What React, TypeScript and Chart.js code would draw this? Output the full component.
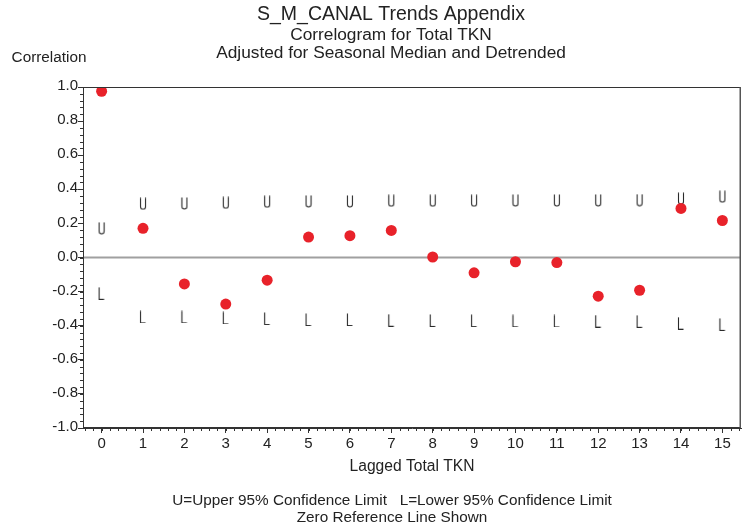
import React, { useEffect, useRef } from "react";
import { Chart, registerables } from "chart.js";

Chart.register(...registerables);

// ---- data ----
const lags = [0, 1, 2, 3, 4, 5, 6, 7, 8, 9, 10, 11, 12, 13, 14, 15];
const correlation = [0.975, 0.171, -0.155, -0.273, -0.133, 0.12, 0.128, 0.159, 0.003, -0.09, -0.025, -0.03, -0.227, -0.192, 0.288, 0.217];
const upperLimit = [0.171, 0.315, 0.317, 0.321, 0.327, 0.329, 0.329, 0.333, 0.333, 0.333, 0.334, 0.334, 0.335, 0.336, 0.345, 0.357];
const lowerLimit = [-0.21, -0.348, -0.348, -0.354, -0.358, -0.364, -0.364, -0.368, -0.369, -0.370, -0.371, -0.372, -0.373, -0.374, -0.385, -0.392];
const xTicks = [0, 1, 2, 3, 4, 5, 6, 7, 8, 9, 10, 11, 12, 13, 14, 15];
const yTicks = [-1.0, -0.8, -0.6, -0.4, -0.2, 0.0, 0.2, 0.4, 0.6, 0.8, 1.0];
const xRange = [-0.45, 15.45];
const yRange = [-1.0, 1.0];
const xMinorStep = 0.2;
const yMinorStep = 0.04;

const titleLines = ["S_M_CANAL Trends Appendix", "Correlogram for Total TKN", "Adjusted for Seasonal Median and Detrended"];
const yAxisTitle = "Correlation";
const xAxisTitle = "Lagged Total TKN";
const footnotes = ["U=Upper 95% Confidence Limit   L=Lower 95% Confidence Limit", "Zero Reference Line Shown"];

const FONT = "'Liberation Sans', Arial, sans-serif";

function makeGlyph(kind: "U" | "L"): HTMLCanvasElement {
  const c = document.createElement("canvas");
  c.width = 8;
  c.height = 13;
  const g = c.getContext("2d")!;
  g.strokeStyle = "#2a2a2a";
  g.lineWidth = 1.1;
  g.beginPath();
  if (kind === "U") {
    g.moveTo(1.5, 0.5);
    g.lineTo(1.5, 9.5);
    g.arc(4, 9.5, 2.5, Math.PI, 0, true);
    g.lineTo(6.5, 0.5);
  } else {
    g.moveTo(1.5, 0.5);
    g.lineTo(1.5, 12.5);
    g.lineTo(6.5, 12.5);
  }
  g.stroke();
  return c;
}

const decorPlugin = {
  id: "decor",
  beforeDatasetsDraw(chart: any) {
    const { ctx, chartArea, scales } = chart;
    const y0 = scales.y.getPixelForValue(0);
    ctx.save();
    ctx.strokeStyle = "#a0a0a0";
    ctx.lineWidth = 2;
    ctx.beginPath();
    ctx.moveTo(chartArea.left, y0);
    ctx.lineTo(chartArea.right, y0);
    ctx.stroke();
    ctx.restore();
  },
  afterDraw(chart: any) {
    const { ctx, chartArea, scales } = chart;
    const { left, right, top, bottom } = chartArea;
    ctx.save();
    // frame
    ctx.strokeStyle = "#333";
    ctx.lineWidth = 1;
    ctx.strokeRect(left + 0.5, top + 0.5, right - left - 1, bottom - top - 1);
    ctx.beginPath();
    ctx.strokeStyle = "#555";
    ctx.lineWidth = 1.5;
    ctx.moveTo(right - 0.75, top);
    ctx.lineTo(right - 0.75, bottom);
    ctx.stroke();
    // minor ticks
    ctx.strokeStyle = "#333";
    ctx.lineWidth = 1;
    ctx.beginPath();
    const startX = Math.ceil(xRange[0] / xMinorStep) * xMinorStep;
    for (let i = 0; i < 200; i++) {
      const v = startX + i * xMinorStep;
      if (v > xRange[1]) break;
      const px = Math.round(scales.x.getPixelForValue(v)) + 0.5;
      ctx.moveTo(px, bottom);
      ctx.lineTo(px, bottom + 3);
    }
    const ny = Math.round((yRange[1] - yRange[0]) / yMinorStep);
    for (let i = 0; i <= ny; i++) {
      const v = yRange[0] + i * yMinorStep;
      const py = Math.round(scales.y.getPixelForValue(v)) + 0.5;
      ctx.moveTo(left, py);
      ctx.lineTo(left - 3, py);
    }
    ctx.stroke();
    // texts
    ctx.fillStyle = "#222";
    ctx.textAlign = "center";
    ctx.textBaseline = "middle";
    ctx.font = `19.5px ${FONT}`;
    ctx.fillText(titleLines[0], 391, 15);
    ctx.font = `17.3px ${FONT}`;
    ctx.fillText(titleLines[1], 391, 35);
    ctx.fillText(titleLines[2], 391, 53);
    ctx.font = `15.3px ${FONT}`;
    ctx.fillText(yAxisTitle, 49, 58);
    ctx.fillText(footnotes[0], 392, 501);
    ctx.fillText(footnotes[1], 392, 518);
    ctx.font = `15.6px ${FONT}`;
    ctx.fillText(xAxisTitle, (left + right) / 2, 467);
    ctx.restore();
  },
};

export default function App() {
  const ref = useRef<HTMLCanvasElement | null>(null);
  useEffect(() => {
    if (!ref.current) return;
    const uImg = makeGlyph("U");
    const lImg = makeGlyph("L");
    const chart = new Chart(ref.current, {
      type: "scatter",
      data: {
        datasets: [
          {
            label: "Correlation",
            data: lags.map((x, i) => ({ x, y: correlation[i] })),
            backgroundColor: "#e8222a",
            borderWidth: 0,
            pointRadius: 5.5,
          },
          {
            label: "Upper 95% Confidence Limit",
            data: lags.map((x, i) => ({ x, y: upperLimit[i] })),
            pointStyle: uImg as any,
            pointRadius: 6,
          },
          {
            label: "Lower 95% Confidence Limit",
            data: lags.map((x, i) => ({ x, y: lowerLimit[i] })),
            pointStyle: lImg as any,
            pointRadius: 6,
          },
        ],
      },
      options: {
        animation: false,
        responsive: false,
        events: [],
        layout: { padding: { top: 87, right: 14, left: 0, bottom: 0 } },
        plugins: { legend: { display: false }, tooltip: { enabled: false }, title: { display: false } },
        scales: {
          x: {
            type: "linear",
            min: xRange[0],
            max: xRange[1],
            afterBuildTicks: (s: any) => {
              s.ticks = xTicks.map((v) => ({ value: v }));
            },
            afterFit: (s: any) => {
              s.height = 101;
            },
            grid: { drawOnChartArea: false, tickLength: 5, color: "#333" },
            border: { display: true, color: "#333" },
            ticks: {
              font: { family: FONT, size: 15 },
              color: "#222",
              padding: 2,
              maxRotation: 0,
              autoSkip: false,
              callback: (v: any) => String(v),
            },
          },
          y: {
            type: "linear",
            min: yRange[0],
            max: yRange[1],
            afterBuildTicks: (s: any) => {
              s.ticks = yTicks.map((v) => ({ value: v }));
            },
            afterFit: (s: any) => {
              s.width = 83;
            },
            grid: { drawOnChartArea: false, tickLength: 5, color: "#333" },
            border: { display: true, color: "#333" },
            ticks: {
              font: { family: FONT, size: 15 },
              color: "#222",
              padding: 0,
              labelOffset: -1,
              autoSkip: false,
              callback: (v: any) => Number(v).toFixed(1),
            },
          },
        },
      },
      plugins: [decorPlugin],
    });
    return () => chart.destroy();
  }, []);
  return (
    <div style={{ position: "absolute", left: 0, top: 0, width: 755, height: 529, background: "#fff" }}>
      <canvas ref={ref} width={755} height={529} style={{ display: "block" }} />
    </div>
  );
}
